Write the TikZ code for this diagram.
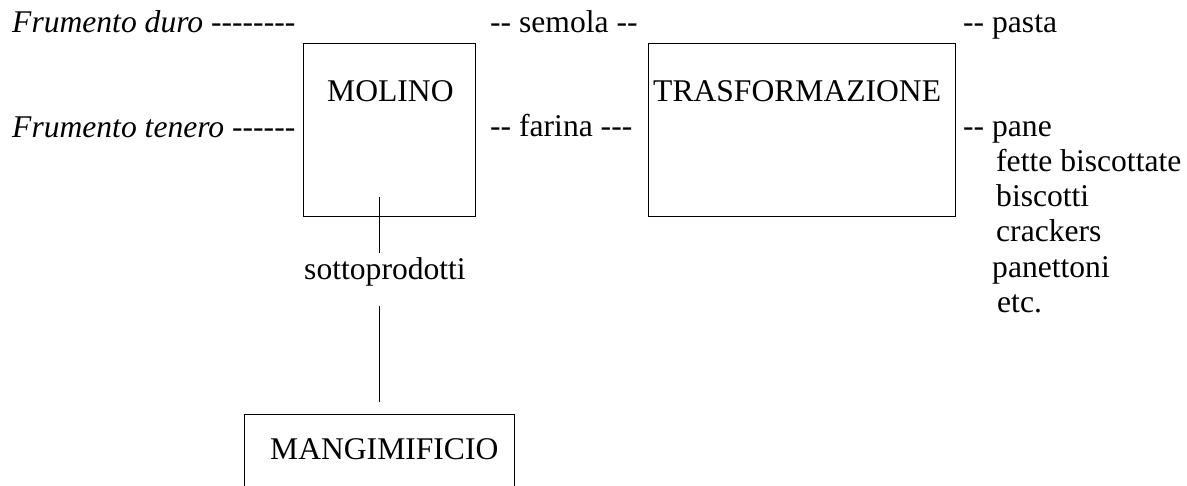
\documentclass[tikz,border=0pt]{standalone}
\usepackage{fontspec}
\setmainfont{Liberation Serif}[Ligatures=TeXOff]
\begin{document}
\begin{tikzpicture}[x=1pt,y=-1pt,
  txt/.style={anchor=base west,inner sep=0pt,font=\fontsize{31.6}{38}\selectfont},
  boxnode/.style={draw,line width=1pt,rectangle,inner sep=0pt,anchor=north west},
  conn/.style={line width=1pt}]
\useasboundingbox (0,0) rectangle (1187,486);
% boxes
\node[boxnode,minimum width=172pt,minimum height=173pt] (molino) at (303,43) {};
\node[boxnode,minimum width=307pt,minimum height=173pt] (trasf) at (648,43) {};
\begin{scope}
\clip (0,0) rectangle (1187,486);
\node[boxnode,minimum width=270pt,minimum height=120pt] (mangimificio) at (244,414) {};
\end{scope}
% box texts
\node[txt] (tmolino) at (327,102) {MOLINO};
\node[txt] (ttrasf) at (653,102) {TRASFORMAZIONE};
\node[txt] (tmang) at (270,460) {MANGIMIFICIO};
% inputs
\node[txt] (duro) at (12,33) {\textit{Frumento duro} --------};
\node[txt] (tenero) at (12,138) {\textit{Frumento tenero} ------};
% intermediate
\node[txt] (semola) at (490,33) {-- semola --};
\node[txt] (farina) at (490,137) {-- farina ---};
% outputs
\node[txt] (pasta) at (963,33) {-- pasta};
\node[txt] (pane) at (963,137) {-- pane};
\node[txt] (fette) at (996,172) {fette biscottate};
\node[txt] (biscotti) at (996,207) {biscotti};
\node[txt] (crackers) at (996,242) {crackers};
\node[txt] (panettoni) at (992,278) {panettoni};
\node[txt] (etc) at (997,313) {etc.};
% sottoprodotti
\node[txt,anchor=base] (sotto) at (385,280) {sottoprodotti};
\coordinate (s1) at (379,197);
\coordinate (s2) at (379,253);
\coordinate (s3) at (379,306);
\coordinate (s4) at (379,402);
\draw[conn] (s1) -- (s2);
\draw[conn] (s3) -- (s4);
\end{tikzpicture}
\end{document}
